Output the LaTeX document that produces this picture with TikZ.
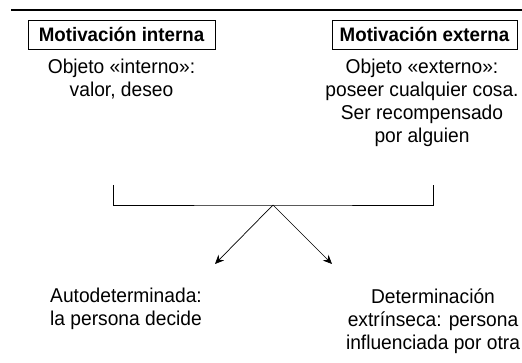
\documentclass[tikz,border=0pt]{standalone}
\usepackage{fontspec}
\setmainfont[FakeStretch=0.96]{Liberation Sans}
\usetikzlibrary{arrows.meta}
\begin{document}
\begin{tikzpicture}[x=1pt,y=-1pt,
  hdr/.style={draw,line width=0.9pt,inner sep=0pt,font=\fontsize{19.5}{22}\selectfont\bfseries,anchor=center},
  txt/.style={align=center,font=\fontsize{20}{23}\selectfont,anchor=base,inner sep=0pt},
  conn/.style={line width=0.8pt},
  arr/.style={line width=0.7pt,-{Stealth[length=9pt,width=8pt]}}]
\useasboundingbox (0,0) rectangle (522,363);
\coordinate (tl) at (11,10);
\coordinate (tr) at (522,10);
\draw[line width=2pt] (tl) -- (tr);
\node[hdr,minimum width=187pt,minimum height=29pt] (mi) at (121.5,34.5) {Motivación interna};
\node[hdr,minimum width=185pt,minimum height=29pt] (me) at (424.5,34.5) {Motivación externa};
\node[txt] (ti) at (121.5,97) {Objeto «interno»:\\valor, deseo};
\node[txt] (te) at (422,143) {Objeto «externo»:\\poseer cualquier cosa.\\Ser recompensado\\por alguien};
\coordinate (bl) at (113,185);
\coordinate (br) at (433,185);
\coordinate (apex) at (273,205);
\coordinate (al) at (215,264);
\coordinate (ar) at (332,264);
\draw[conn] (bl) |- (apex) -| (br);
\draw[arr] (apex) -- (al);
\draw[arr] (apex) -- (ar);
\node[txt] (bl1) at (126,326) {Autodeterminada:\\la persona decide};
\node[txt] (br1) at (433,349) {Determinación\\extrínseca: persona\\influenciada por otra};
\end{tikzpicture}
\end{document}
